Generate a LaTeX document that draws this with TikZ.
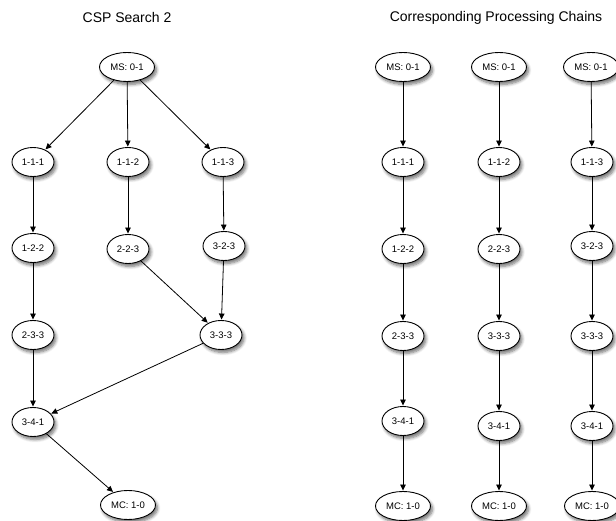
\documentclass[tikz,border=0pt]{standalone}
\usepackage{fontspec}
\setmainfont{Liberation Sans}
\usetikzlibrary{shapes.geometric,arrows.meta,shadows.blur}
\begin{document}
\begin{tikzpicture}[x=1pt,y=-1pt,
  state/.style={ellipse,draw=black,line width=0.9pt,fill=white,inner sep=0pt,
    minimum width=42pt,minimum height=29pt,font=\fontsize{9.5}{11}\selectfont,
    blur shadow={shadow xshift=2pt,shadow yshift=-3pt,shadow blur steps=6,shadow blur radius=3pt,shadow opacity=55}},
  term/.style={state,minimum width=55pt},
  edge/.style={draw=black,line width=0.8pt,-{Triangle[length=6pt,width=5.5pt]},shorten >=0.5pt},
  heading/.style={font=\fontsize{14}{16}\selectfont}]
\useasboundingbox (0,0) rectangle (616,521);

% ---- left: search graph ----
\node[heading] (t1) at (127,18) {CSP Search 2};
\node[term]  (ms)   at (127,67)  {MS: 0-1};
\node[state] (a111) at (33,162)  {1-1-1};
\node[state] (a112) at (128,162) {1-1-2};
\node[state] (a113) at (223,162) {1-1-3};
\node[state] (a122) at (33,248)  {1-2-2};
\node[state] (a223) at (128,249) {2-2-3};
\node[state] (a323) at (224,246) {3-2-3};
\node[state] (a233) at (33,335)  {2-3-3};
\node[state] (a333) at (221,335) {3-3-3};
\node[state] (a341) at (33,422)  {3-4-1};
\node[term]  (mc)   at (128,505) {MC: 1-0};

\draw[edge] (ms) -- (a111);
\draw[edge] (ms) -- (a112);
\draw[edge] (ms) -- (a113);
\draw[edge] (a111) -- (a122);
\draw[edge] (a122) -- (a233);
\draw[edge] (a233) -- (a341);
\draw[edge] (a112) -- (a223);
\draw[edge] (a223) -- (a333);
\draw[edge] (a113) -- (a323);
\draw[edge] (a323) -- (a333);
\draw[edge] (a333) -- (a341);
\draw[edge] (a341) -- (mc);

% ---- right: processing chains ----
\node[heading] (t2) at (496,18) {Corresponding Processing Chains};

% chain 1
\node[term]  (c1a) at (403,67)  {MS: 0-1};
\node[state] (c1b) at (403,162) {1-1-1};
\node[state] (c1c) at (403,249) {1-2-2};
\node[state] (c1d) at (403,336) {2-3-3};
\node[state] (c1e) at (403,421) {3-4-1};
\node[term]  (c1f) at (403,506) {MC: 1-0};
% chain 2
\node[term]  (c2a) at (499,67)  {MS: 0-1};
\node[state] (c2b) at (499,162) {1-1-2};
\node[state] (c2c) at (499,249) {2-2-3};
\node[state] (c2d) at (499,336) {3-3-3};
\node[state] (c2e) at (499,426) {3-4-1};
\node[term]  (c2f) at (499,506) {MC: 1-0};
% chain 3
\node[term]  (c3a) at (591,67)  {MS: 0-1};
\node[state] (c3b) at (592,162) {1-1-3};
\node[state] (c3c) at (592,246) {3-2-3};
\node[state] (c3d) at (592,336) {3-3-3};
\node[state] (c3e) at (592,426) {3-4-1};
\node[term]  (c3f) at (592,506) {MC: 1-0};

\foreach \c in {1,2,3}{
  \draw[edge] (c\c a) -- (c\c b);
  \draw[edge] (c\c b) -- (c\c c);
  \draw[edge] (c\c c) -- (c\c d);
  \draw[edge] (c\c d) -- (c\c e);
  \draw[edge] (c\c e) -- (c\c f);
}
\end{tikzpicture}
\end{document}
